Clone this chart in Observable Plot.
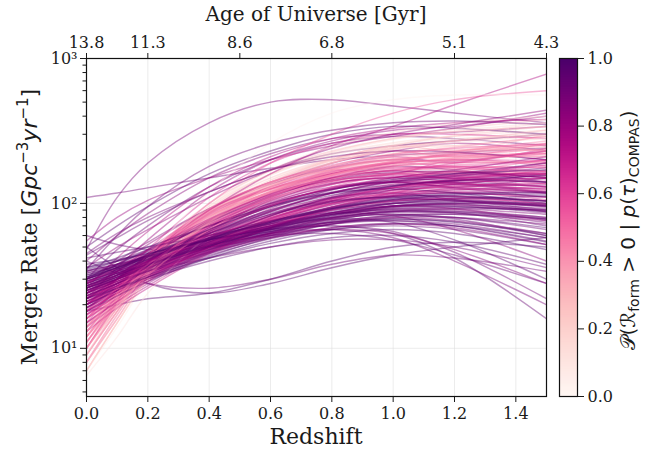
<!DOCTYPE html>
<html><head><meta charset="utf-8">
<script src="https://cdn.jsdelivr.net/npm/d3@7"></script>
<script src="https://cdn.jsdelivr.net/npm/@observablehq/plot@0.6"></script>
<style>
body{margin:0;background:#fff;}
#wrap{position:relative;width:657px;height:449px;background:#fff;}
#wrap svg{position:absolute;top:0;}
</style></head><body><div id="wrap"></div>
<script>
// ---- axes / ticks ----
const redshifts = [0, 0.1, 0.2, 0.4, 0.6, 0.8, 1.0, 1.2, 1.5];
const xTicks = [0, 0.2, 0.4, 0.6, 0.8, 1.0, 1.2, 1.4];
const ageTickZ = [0, 0.2, 0.5, 0.8, 1.2, 1.5];
const ageLabels = ["13.8", "11.3", "8.6", "6.8", "5.1", "4.3"];
const yMajor = [10, 100, 1000];
const yMajorLabels = ["10¹", "10²", "10³"];
const yMinor = [5,6,7,8,9,20,30,40,50,60,70,80,90,200,300,400,500,600,700,800,900];
const cbTicks = [0, 0.2, 0.4, 0.6, 0.8, 1.0];

// ---- merger-rate curves (values at the redshifts above), grouped by colour ----
const darkCurves = [
 [24,29,35,48,62,75,82,80,68],[28,33,39,52,66,80,88,86,74],[22,27,33,46,60,72,78,75,60],
 [30,35,41,55,70,84,92,90,80],[26,31,37,51,67,83,94,95,88],[20,25,31,44,57,68,73,70,55],
 [33,38,44,57,72,86,96,98,92],[25,30,36,50,66,82,96,102,100],[23,28,34,47,61,74,83,84,76],
 [29,34,40,54,69,84,95,96,86],[19,24,30,43,58,72,82,84,78],[27,32,38,53,70,88,102,108,104],
 [31,36,42,56,70,80,84,78,60],[21,26,32,46,62,78,90,92,84],[35,40,46,60,76,92,104,106,98],
 [24,29,35,49,64,79,88,86,70],[28,33,38,50,62,72,76,72,58],[26,31,37,52,68,86,100,104,96],
 [22,27,33,47,63,80,94,100,98],[32,37,43,58,74,90,100,100,88],[18,23,29,42,55,66,72,70,58],
 [25,30,36,50,65,78,84,80,66],[29,34,41,57,75,93,106,110,104],[23,28,35,50,67,84,96,98,88],
 [27,32,38,51,64,74,78,74,62],[34,38,43,55,68,80,88,88,80],[21,26,32,45,59,72,80,80,72],
 [30,35,41,56,73,91,106,114,116],[24,29,34,46,58,68,72,68,52],[26,31,37,51,66,82,92,94,90],
 [36,40,45,56,66,74,76,70,54],[20,25,31,45,60,76,88,92,90],[28,33,39,53,68,84,96,100,96],
 [25,30,36,49,62,74,80,76,62],[31,36,42,57,74,92,108,116,120],[23,28,34,48,63,77,86,86,78],
 [27,32,38,52,68,86,100,104,94],[22,26,31,42,53,62,66,62,48],[29,34,40,54,70,86,96,92,76],
 [33,37,43,58,75,94,110,118,112]
];
const darkProb = [0.97,0.9,0.94,0.86,0.99,0.92,0.88,0.96,0.84,0.93,0.97,0.9,0.94,0.86,0.99,0.92,0.88,0.96,0.84,0.93,
 0.97,0.9,0.94,0.86,0.99,0.92,0.88,0.96,0.84,0.93,0.97,0.9,0.94,0.86,0.99,0.92,0.88,0.96,0.84,0.93];

const magentaCurves = [
 [18,24,31,50,72,95,112,120,118],[21,27,34,54,76,98,114,118,110],[16,22,29,48,70,94,114,128,136],
 [24,30,37,57,80,104,122,130,126],[15,21,28,47,68,90,106,112,104],[19,25,33,54,79,106,128,140,142],
 [22,28,35,55,78,102,118,120,106],[17,23,30,50,74,100,124,142,156],[20,26,34,56,82,110,132,144,148],
 [26,32,39,58,80,100,112,112,98],[14,20,27,46,68,92,112,124,128],[23,29,36,57,82,108,128,136,130],
 [18,24,32,53,78,104,124,134,132],[21,27,34,52,72,92,104,106,96],[16,22,30,52,78,106,130,148,166],
 [25,31,38,58,82,108,130,144,150],[19,25,32,51,74,98,116,124,120],[13,19,26,45,68,94,118,136,150],
 [22,28,36,58,84,112,136,152,162],[17,23,31,52,76,100,118,126,122],[27,33,40,60,84,108,124,128,118],
 [15,21,29,50,76,104,128,146,160],[20,26,33,53,76,100,120,132,138],[24,30,38,60,88,118,142,156,160],
 [18,24,31,49,70,90,104,108,100]
];
const magentaProb = [0.78,0.7,0.74,0.66,0.8,0.72,0.64,0.76,0.78,0.7,0.74,0.66,0.8,0.72,0.64,0.76,
 0.78,0.7,0.74,0.66,0.8,0.72,0.64,0.76,0.7];

const pinkCurves = [
 [10,20,38,80,120,150,168,176,178],[12,22,40,82,118,144,158,162,156],[9,18,35,76,116,148,170,184,196],
 [13,24,43,88,128,160,180,190,192],[11,21,39,84,126,162,188,206,222],[8,17,33,72,108,136,152,158,152],
 [14,25,44,86,124,152,168,172,166],[10,20,37,80,124,164,196,220,246],[12,23,42,90,136,174,200,214,220],
 [9,19,36,78,120,156,184,204,226],[15,26,45,88,126,156,174,180,176],[11,21,40,86,132,172,204,228,252],
 [10,19,35,74,112,142,160,166,158],[13,23,41,84,126,160,182,192,190],[8,16,32,74,118,158,192,220,254],
 [12,22,41,88,134,170,192,198,188],[10,20,38,82,126,164,194,216,236],[14,24,42,82,118,146,162,166,160],
 [11,22,41,90,140,184,218,240,256],[9,18,34,76,120,158,186,204,214],[13,24,44,92,140,178,202,212,210],
 [10,21,40,86,130,166,190,200,196]
];
const pinkProb = [0.52,0.42,0.56,0.38,0.48,0.58,0.45,0.35,0.52,0.42,0.56,0.38,0.48,0.58,0.45,0.35,
 0.52,0.42,0.56,0.38,0.48,0.58];

const paleCurves = [
 [7,15,31,78,132,180,220,250,280],[8,17,34,86,146,200,244,276,310],[9,18,36,90,150,204,246,270,290],
 [7,14,29,74,128,180,226,262,300],[10,20,40,96,160,218,262,290,320],[8,16,33,84,144,202,252,292,340],
 [9,19,38,94,158,214,256,280,296],[7,15,31,80,140,198,250,296,360],[8,17,35,90,156,222,276,316,360],
 [11,21,42,100,168,230,280,312,340],[8,16,32,82,140,192,234,262,280],[9,18,37,92,160,226,282,326,380],
 [10,19,38,96,170,246,310,356,400],[7,15,30,78,136,190,236,270,300]
];
const paleProb = [0.22,0.12,0.28,0.06,0.18,0.25,0.1,0.2,0.15,0.3,0.08,0.24,0.14,0.27];

const mixedCurves = [
 [26,34,44,70,100,125,140,130,150],[20,28,38,66,100,135,160,150,170],[16,25,36,68,110,150,170,180,165],
 [30,38,48,75,110,150,180,170,140],[14,22,33,64,104,140,150,165,200],[22,30,40,68,102,130,140,128,110],
 [18,27,40,78,120,160,190,180,200],[34,40,48,70,96,120,134,140,130],[12,21,34,72,118,170,210,230,260],
 [25,32,42,66,95,118,128,136,160],[20,27,36,60,92,124,150,165,150],[28,35,45,72,106,138,150,140,120],
 [15,24,36,70,114,158,190,200,230],[24,31,40,62,88,110,118,106,90],[19,27,37,64,98,128,146,156,184],
 [31,38,47,70,100,126,142,148,140],[11,20,34,76,128,180,220,236,230],[26,34,45,76,116,150,168,160,190],
 [17,25,35,62,96,126,142,138,124],[29,35,43,64,90,114,132,144,156],[13,22,35,72,120,168,200,210,240],
 [23,30,39,64,96,128,150,170,210],[21,29,40,70,108,142,160,154,136],[36,42,50,70,96,124,146,160,170],
 [10,19,33,74,130,190,240,270,320],[27,33,41,62,86,104,110,104,96],[18,26,36,62,96,130,160,190,230],
 [24,32,43,74,112,146,164,166,150],[16,24,35,66,106,148,180,196,220],[32,37,44,62,84,102,112,112,104],
 [20,28,39,68,104,136,152,150,160],[25,30,37,56,82,110,132,144,140],[14,23,36,74,122,172,214,244,290],
 [22,30,40,66,98,126,140,136,118],[28,36,47,78,114,144,156,148,130],[19,26,35,58,88,118,142,160,190],
 [12,20,32,66,110,156,196,226,270],[30,36,44,66,94,118,126,118,100],[17,26,38,70,112,152,176,176,160],
 [26,32,40,62,90,118,140,154,176]
];
const mixedProb = [0.85,0.7,0.6,0.9,0.55,0.8,0.62,0.93,0.45,0.88,0.74,0.82,0.5,0.9,0.68,0.95,0.36,0.78,0.72,0.97,
 0.4,0.8,0.66,0.99,0.3,0.91,0.6,0.85,0.52,0.96,0.76,0.94,0.42,0.83,0.71,0.89,0.46,0.98,0.58,0.87];

const wigglyCurves = [
 [20,30,44,84,130,170,160,200,180],[24,34,48,90,140,180,210,190,240],[16,26,40,80,130,190,230,210,260],
 [28,38,52,92,140,190,230,260,230],[14,24,40,86,140,200,250,230,300],[22,30,42,76,118,160,190,220,200],
 [30,40,54,92,136,176,200,196,230],[12,22,38,84,138,196,240,250,230]
];
const wigglyProb = [0.6,0.7,0.5,0.8,0.35,0.75,0.85,0.25];

const upperCurves = [
 [40,60,85,150,220,280,300,310,340],[30,48,70,130,200,260,290,280,250],[22,36,56,120,200,270,320,340,400],
 [44,58,76,120,170,220,250,270,300],[26,42,64,130,210,280,330,360,380],[18,30,48,110,190,260,300,300,280],
 [50,70,95,160,230,300,340,330,300]
];
const upperProb = [0.85,0.9,0.8,0.92,0.75,0.65,0.95];

const lowerCurves = [
 [24,30,36,50,62,66,58,40,20],[34,38,42,52,60,62,56,44,28],[20,25,30,40,50,58,60,54,38],
 [30,36,44,60,76,86,82,66,40],[26,30,34,42,50,56,56,50,36]
];
const lowerProb = [0.88,0.92,0.95,0.85,0.9];

const outlierCurves = [
 [110,118,128,150,175,200,215,225,240],[48,110,190,360,500,520,470,420,360],
 [55,80,105,150,200,250,290,330,420],[50,36,28,24,28,36,44,50,58],
 [60,52,48,50,58,66,70,66,52],[18,20,22,24,30,40,50,54,50],
 [40,33,28,26,30,38,44,42,34],[30,36,42,56,66,70,62,42,16],
 [26,32,38,52,64,70,64,46,22],[22,28,34,48,60,66,62,48,28],
 [28,34,40,54,68,78,74,56,30],[20,30,44,90,160,250,340,480,780],
 [16,26,42,100,190,300,420,520,600],[9,20,42,120,260,420,520,560,560],
 [36,50,66,110,170,240,300,350,440],[6.5,12,24,60,104,146,178,198,210],
 [35,60,95,180,260,320,360,370,350],[45,62,80,120,170,210,230,226,200],
 [42,46,50,60,72,84,90,88,78],[38,41,45,56,70,86,100,108,112]
];
const outlierProb = [0.9,0.88,0.8,0.95,0.92,0.96,0.9,0.93,0.9,0.86,0.95,0.75,0.55,0.03,0.82,0.12,0.9,0.88,0.94,0.97];

// ---- build tidy table (round-robin across groups so colours interleave) ----
const groups = [
  [paleCurves, paleProb], [pinkCurves, pinkProb], [mixedCurves, mixedProb], [magentaCurves, magentaProb],
  [wigglyCurves, wigglyProb], [upperCurves, upperProb], [darkCurves, darkProb], [lowerCurves, lowerProb],
  [outlierCurves, outlierProb]
];
const lineData = [];
let id = 0;
const maxLen = d3.max(groups, g => g[0].length);
for (let i = 0; i < maxLen; i++) {
  for (const [curves, probs] of groups) {
    if (i < curves.length) {
      curves[i].forEach((v, k) => lineData.push({id, z: redshifts[k], rate: v, p: probs[i]}));
      id++;
    }
  }
}

const ageMap = new Map(ageTickZ.map((z, i) => [z, ageLabels[i]]));
const yLabMap = new Map(yMajor.map((v, i) => [v, yMajorLabels[i]]));
const serif = "DejaVu Serif";
const ink = "#1a1a1a";

const main = Plot.plot({
  width: 657, height: 449,
  marginLeft: 86, marginRight: 111, marginTop: 58, marginBottom: 53,
  x: {domain: [0, 1.5]},
  y: {type: "log", domain: [4.65, 1000]},
  color: {type: "linear", scheme: "rdpu", domain: [0, 1]},
  style: {fontFamily: serif, fontSize: "16px", color: ink, background: "transparent", overflow: "visible"},
  marks: [
    Plot.gridX(xTicks, {stroke: "#dcdcdc", strokeOpacity: 0.7, strokeWidth: 0.8}),
    Plot.gridY(yMajor, {stroke: "#dcdcdc", strokeOpacity: 0.7, strokeWidth: 0.8}),
    Plot.line(lineData, {x: "z", y: "rate", z: "id", stroke: "p", curve: "catmull-rom",
      strokeWidth: 1.45, strokeOpacity: 0.42, clip: true}),
    Plot.axisX(xTicks, {anchor: "bottom", tickFormat: d => d.toFixed(1), tickSize: 6, tickPadding: 5, label: null}),
    Plot.axisX(ageTickZ, {anchor: "top", tickFormat: d => ageMap.get(d), tickSize: 6, tickPadding: 5, label: null}),
    Plot.axisY(yMajor, {anchor: "left", tickFormat: d => yLabMap.get(d), tickSize: 6, tickPadding: 3, label: null}),
    Plot.axisY(yMinor, {anchor: "left", tickFormat: () => "", tickSize: 3.5, label: null}),
    Plot.frame({stroke: "#111", strokeWidth: 1.2})
  ]
});

const step = 0.005;
const cbStops = d3.range(0, 1, step);
const cb = Plot.plot({
  width: 117, height: 449,
  marginLeft: 19, marginRight: 80, marginTop: 58, marginBottom: 53,
  x: {domain: [0, 1], axis: null},
  y: {domain: [0, 1]},
  color: {type: "linear", scheme: "rdpu", domain: [0, 1]},
  style: {fontFamily: serif, fontSize: "16px", color: ink, background: "transparent", overflow: "visible"},
  marks: [
    Plot.rect(cbStops, {x1: d => 0, x2: d => 1, y1: d => d, y2: d => Math.min(1, d + step * 1.6), fill: d => d + step / 2}),
    Plot.axisY(cbTicks, {anchor: "right", tickFormat: d => d.toFixed(1), tickSize: 6, tickPadding: 4, label: null}),
    Plot.frame({stroke: "#111", strokeWidth: 1.2})
  ]
});

const wrap = document.getElementById("wrap");
main.style.left = "0px";
cb.style.left = "540px";
wrap.appendChild(main);
wrap.appendChild(cb);

// ---- titles ----
const ms = d3.select(main);
ms.append("text").attr("x", 316).attr("y", 21).attr("text-anchor", "middle")
  .attr("font-family", serif).attr("font-size", 20).attr("fill", ink).text("Age of Universe [Gyr]");
ms.append("text").attr("x", 316).attr("y", 444).attr("text-anchor", "middle")
  .attr("font-family", serif).attr("font-size", 22).attr("fill", ink).text("Redshift");

const yl = ms.append("text").attr("transform", "translate(37,227) rotate(-90)")
  .attr("text-anchor", "middle").attr("font-family", serif).attr("font-size", 22).attr("fill", ink);
yl.append("tspan").text("Merger Rate ");
yl.append("tspan").attr("font-family", "DejaVu Sans").text("[");
yl.append("tspan").attr("font-family", "DejaVu Sans").attr("font-style", "italic").text("Gpc");
yl.append("tspan").attr("font-family", "DejaVu Sans").attr("font-size", 15).attr("dy", -9).text("−3");
yl.append("tspan").attr("font-family", "DejaVu Sans").attr("font-style", "italic").attr("dy", 9).text("yr");
yl.append("tspan").attr("font-family", "DejaVu Sans").attr("font-size", 15).attr("dy", -9).text("−1");
yl.append("tspan").attr("font-family", "DejaVu Sans").attr("dy", 9).text("]");

const cs = d3.select(cb);
const cl = cs.append("text").attr("transform", "translate(95,230) rotate(-90)")
  .attr("text-anchor", "middle").attr("font-family", "DejaVu Sans").attr("font-size", 20).attr("fill", ink);
cl.append("tspan").text("𝒫(ℛ");
cl.append("tspan").attr("font-size", 14).attr("dy", 4).text("form");
cl.append("tspan").attr("dy", -4).text(" > 0 | ");
cl.append("tspan").attr("font-style", "italic").text("p");
cl.append("tspan").text("(");
cl.append("tspan").attr("font-style", "italic").text("τ");
cl.append("tspan").text(")");
cl.append("tspan").attr("font-size", 14).attr("dy", 4).text("COMPAS");
cl.append("tspan").attr("dy", -4).text(")");
</script></body></html>
